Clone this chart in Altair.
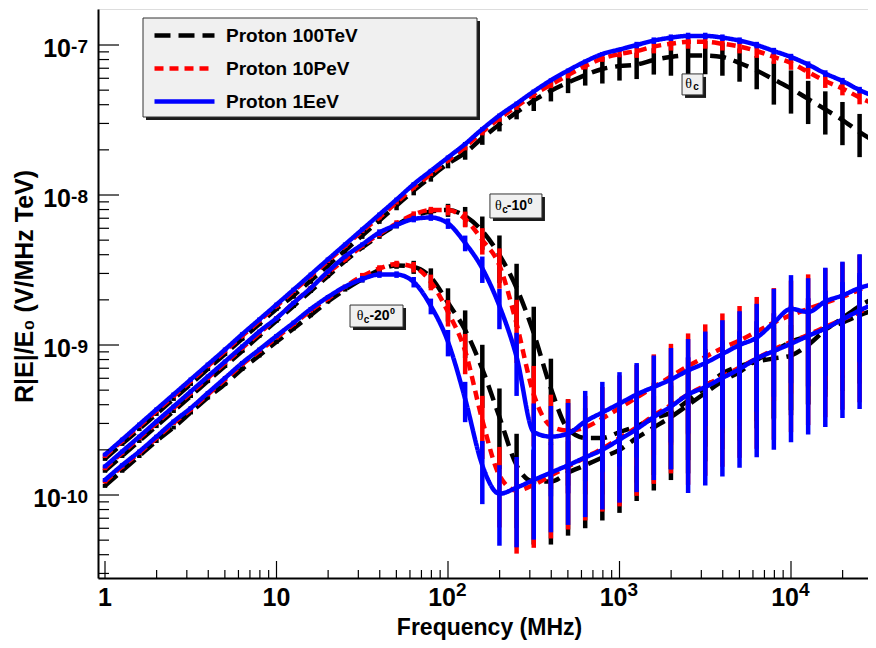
import altair as alt
import pandas as pd

# ---------------- data ----------------
freq_mhz = [1.0, 1.259, 1.585, 1.995, 2.512, 3.162, 3.981, 5.012, 6.310, 7.943,
            10.0, 12.59, 15.85, 19.95, 25.12, 31.62, 39.81, 50.12, 63.10, 79.43,
            100.0, 125.9, 158.5, 199.5, 251.2, 316.2, 398.1, 501.2, 631.0, 794.3,
            1000.0, 1259.0, 1585.0, 1995.0, 2512.0, 3162.0, 3981.0, 5012.0, 6310.0, 7943.0,
            10000.0, 12589.0, 15849.0, 19953.0, 25119.0, 31623.0]

energies = ["Proton 100TeV", "Proton 10PeV", "Proton 1EeV"]
energy_colors = ["#000000", "#ff0000", "#0000ff"]
energy_dashes = [[16, 8], [9, 6], [1, 0]]
angles = ["θc", "θc-10°", "θc-20°"]

# R|E|/E0 (V/MHz TeV)
p100tev_thc = [1.74e-10, 2.19e-10, 2.75e-10, 3.47e-10, 4.37e-10, 5.50e-10, 6.92e-10, 8.71e-10, 1.10e-9, 1.38e-9,
               1.74e-9, 2.14e-9, 2.69e-9, 3.39e-9, 4.27e-9, 5.37e-9, 6.76e-9, 8.51e-9, 1.07e-8, 1.32e-8,
               1.62e-8, 1.91e-8, 2.40e-8, 2.95e-8, 3.55e-8, 4.27e-8, 4.95e-8, 5.62e-8, 6.31e-8, 6.92e-8,
               7.24e-8, 7.41e-8, 7.94e-8, 8.32e-8, 8.51e-8, 8.51e-8, 8.32e-8, 7.59e-8, 6.76e-8, 5.89e-8,
               5.13e-8, 4.37e-8, 3.72e-8, 3.16e-8, 2.63e-8, 2.24e-8]
p10pev_thc = [1.82e-10, 2.29e-10, 2.88e-10, 3.63e-10, 4.57e-10, 5.75e-10, 7.24e-10, 9.12e-10, 1.15e-9, 1.45e-9,
              1.82e-9, 2.29e-9, 2.88e-9, 3.63e-9, 4.57e-9, 5.75e-9, 7.08e-9, 8.91e-9, 1.12e-8, 1.38e-8,
              1.70e-8, 2.09e-8, 2.63e-8, 3.24e-8, 3.89e-8, 4.68e-8, 5.43e-8, 6.31e-8, 7.24e-8, 8.13e-8,
              8.71e-8, 9.12e-8, 9.77e-8, 1.02e-7, 1.05e-7, 1.05e-7, 1.02e-7, 9.77e-8, 9.12e-8, 8.32e-8,
              7.59e-8, 6.61e-8, 5.75e-8, 5.13e-8, 4.47e-8, 3.98e-8]
p1eev_thc = [1.86e-10, 2.34e-10, 2.95e-10, 3.72e-10, 4.68e-10, 5.89e-10, 7.41e-10, 9.33e-10, 1.18e-9, 1.48e-9,
             1.86e-9, 2.34e-9, 2.95e-9, 3.72e-9, 4.68e-9, 5.89e-9, 7.41e-9, 9.33e-9, 1.18e-8, 1.45e-8,
             1.78e-8, 2.19e-8, 2.75e-8, 3.39e-8, 4.07e-8, 4.90e-8, 5.82e-8, 6.76e-8, 7.76e-8, 8.71e-8,
             9.33e-8, 1.00e-7, 1.07e-7, 1.12e-7, 1.15e-7, 1.15e-7, 1.12e-7, 1.07e-7, 1.00e-7, 9.12e-8,
             8.32e-8, 7.41e-8, 6.46e-8, 5.75e-8, 5.01e-8, 4.47e-8]

p100tev_th10 = [1.45e-10, 1.82e-10, 2.29e-10, 2.88e-10, 3.63e-10, 4.57e-10, 5.75e-10, 7.24e-10, 9.12e-10, 1.15e-9,
                1.45e-9, 1.82e-9, 2.29e-9, 2.88e-9, 3.63e-9, 4.47e-9, 5.37e-9, 6.31e-9, 7.24e-9, 7.76e-9,
                7.94e-9, 7.24e-9, 5.75e-9, 3.98e-9, 2.40e-9, 1.20e-9, 5.13e-10, 2.75e-10, 2.40e-10, 2.40e-10,
                2.63e-10, 2.88e-10, 3.24e-10, 3.55e-10, 4.27e-10, 5.25e-10, 6.46e-10, 7.24e-10, 7.76e-10, 8.13e-10,
                8.51e-10, 1.00e-9, 1.26e-9, 1.51e-9, 1.82e-9, 2.09e-9]
p10pev_th10 = [1.51e-10, 1.91e-10, 2.40e-10, 3.02e-10, 3.80e-10, 4.79e-10, 6.03e-10, 7.59e-10, 9.55e-10, 1.20e-9,
               1.51e-9, 1.91e-9, 2.40e-9, 3.02e-9, 3.72e-9, 4.57e-9, 5.50e-9, 6.46e-9, 7.41e-9, 7.94e-9,
               7.94e-9, 6.92e-9, 5.01e-9, 3.39e-9, 1.38e-9, 4.68e-10, 2.88e-10, 2.69e-10, 2.82e-10, 3.24e-10,
               3.80e-10, 4.47e-10, 5.25e-10, 6.17e-10, 7.24e-10, 8.32e-10, 9.55e-10, 1.07e-9, 1.23e-9, 1.41e-9,
               1.58e-9, 1.74e-9, 1.91e-9, 2.09e-9, 2.34e-9, 2.63e-9]
p1eev_th10 = [1.55e-10, 1.95e-10, 2.45e-10, 3.09e-10, 3.89e-10, 4.90e-10, 6.17e-10, 7.76e-10, 9.77e-10, 1.23e-9,
              1.51e-9, 1.91e-9, 2.40e-9, 3.09e-9, 3.89e-9, 4.68e-9, 5.62e-9, 6.31e-9, 6.92e-9, 7.08e-9,
              6.46e-9, 4.79e-9, 3.24e-9, 1.82e-9, 8.32e-10, 2.63e-10, 2.45e-10, 2.57e-10, 3.09e-10, 3.55e-10,
              4.07e-10, 4.68e-10, 5.25e-10, 5.89e-10, 6.76e-10, 7.59e-10, 8.71e-10, 1.00e-9, 1.12e-9, 1.41e-9,
              1.74e-9, 1.66e-9, 1.95e-9, 2.14e-9, 2.40e-9, 2.57e-9]

p100tev_th20 = [1.15e-10, 1.45e-10, 1.82e-10, 2.29e-10, 2.82e-10, 3.55e-10, 4.47e-10, 5.50e-10, 6.92e-10, 8.51e-10,
                1.05e-9, 1.29e-9, 1.58e-9, 1.95e-9, 2.34e-9, 2.75e-9, 3.16e-9, 3.39e-9, 3.31e-9, 2.82e-9,
                1.91e-9, 1.26e-9, 6.92e-10, 3.31e-10, 1.58e-10, 1.23e-10, 1.23e-10, 1.41e-10, 1.58e-10, 1.78e-10,
                2.00e-10, 2.40e-10, 2.82e-10, 3.31e-10, 3.98e-10, 4.79e-10, 5.75e-10, 6.61e-10, 7.94e-10, 9.12e-10,
                1.05e-9, 1.15e-9, 1.29e-9, 1.41e-9, 1.58e-9, 1.74e-9]
p10pev_th20 = [1.23e-10, 1.55e-10, 1.91e-10, 2.40e-10, 3.02e-10, 3.72e-10, 4.68e-10, 5.89e-10, 7.41e-10, 9.12e-10,
               1.12e-9, 1.38e-9, 1.70e-9, 2.04e-9, 2.45e-9, 2.88e-9, 3.24e-9, 3.47e-9, 3.31e-9, 2.63e-9,
               1.66e-9, 9.12e-10, 3.16e-10, 1.35e-10, 1.07e-10, 1.17e-10, 1.35e-10, 1.55e-10, 1.78e-10, 2.04e-10,
               2.40e-10, 2.82e-10, 3.39e-10, 3.98e-10, 4.68e-10, 5.37e-10, 6.17e-10, 7.08e-10, 8.13e-10, 9.33e-10,
               1.05e-9, 1.17e-9, 1.32e-9, 1.48e-9, 1.66e-9, 1.86e-9]
p1eev_th20 = [1.26e-10, 1.58e-10, 1.95e-10, 2.45e-10, 3.09e-10, 3.80e-10, 4.79e-10, 6.03e-10, 7.59e-10, 9.33e-10,
              1.15e-9, 1.41e-9, 1.74e-9, 2.09e-9, 2.45e-9, 2.75e-9, 2.95e-9, 2.95e-9, 2.63e-9, 1.82e-9,
              1.05e-9, 4.37e-10, 1.58e-10, 1.02e-10, 1.12e-10, 1.26e-10, 1.41e-10, 1.58e-10, 1.78e-10, 2.00e-10,
              2.34e-10, 2.75e-10, 3.31e-10, 3.89e-10, 4.68e-10, 5.25e-10, 6.03e-10, 6.92e-10, 8.13e-10, 9.12e-10,
              1.02e-9, 1.15e-9, 1.29e-9, 1.48e-9, 1.70e-9, 1.91e-9]

# relative size of the error bars (fraction of the value)
err_p100tev_thc = [0.03, 0.03, 0.03, 0.03, 0.03, 0.03, 0.03, 0.03, 0.03, 0.03,
                   0.03, 0.05, 0.05, 0.05, 0.05, 0.05, 0.05, 0.07, 0.07, 0.07,
                   0.07, 0.10, 0.10, 0.10, 0.10, 0.15, 0.15, 0.15, 0.15, 0.20,
                   0.20, 0.20, 0.20, 0.25, 0.25, 0.25, 0.25, 0.25, 0.25, 0.32,
                   0.32, 0.32, 0.32, 0.32, 0.32, 0.32]
err_p10pev_thc = [0.03, 0.03, 0.03, 0.03, 0.03, 0.03, 0.03, 0.03, 0.03, 0.03,
                  0.03, 0.03, 0.03, 0.03, 0.03, 0.03, 0.03, 0.03, 0.03, 0.03,
                  0.03, 0.05, 0.05, 0.05, 0.05, 0.05, 0.05, 0.05, 0.05, 0.05,
                  0.05, 0.10, 0.10, 0.10, 0.10, 0.10, 0.10, 0.10, 0.10, 0.10,
                  0.10, 0.10, 0.10, 0.10, 0.10, 0.10]
err_p1eev_thc = [0.03, 0.03, 0.03, 0.03, 0.03, 0.03, 0.03, 0.03, 0.03, 0.03,
                 0.03, 0.03, 0.03, 0.03, 0.03, 0.03, 0.03, 0.03, 0.03, 0.03,
                 0.03, 0.03, 0.03, 0.03, 0.03, 0.03, 0.03, 0.03, 0.03, 0.03,
                 0.03, 0.05, 0.05, 0.05, 0.05, 0.05, 0.05, 0.05, 0.05, 0.05,
                 0.05, 0.05, 0.05, 0.05, 0.05, 0.05]

err_p100tev_th10 = [0.03, 0.03, 0.03, 0.03, 0.03, 0.03, 0.03, 0.03, 0.03, 0.03,
                    0.03, 0.03, 0.03, 0.03, 0.03, 0.03, 0.05, 0.05, 0.05, 0.05,
                    0.10, 0.15, 0.25, 0.35, 0.45, 0.50, 0.58, 0.58, 0.58, 0.58,
                    0.58, 0.58, 0.58, 0.58, 0.60, 0.60, 0.60, 0.60, 0.60, 0.60,
                    0.60, 0.60, 0.60, 0.60, 0.60, 0.60]
err_p10pev_th10 = [0.03, 0.03, 0.03, 0.03, 0.03, 0.03, 0.03, 0.03, 0.03, 0.03,
                   0.03, 0.03, 0.03, 0.03, 0.03, 0.03, 0.05, 0.05, 0.05, 0.05,
                   0.08, 0.12, 0.20, 0.30, 0.45, 0.55, 0.62, 0.62, 0.62, 0.62,
                   0.65, 0.65, 0.65, 0.65, 0.65, 0.65, 0.70, 0.70, 0.70, 0.70,
                   0.70, 0.70, 0.70, 0.70, 0.70, 0.70]
err_p1eev_th10 = [0.03, 0.03, 0.03, 0.03, 0.03, 0.03, 0.03, 0.03, 0.03, 0.03,
                  0.03, 0.03, 0.03, 0.03, 0.03, 0.03, 0.05, 0.05, 0.05, 0.05,
                  0.08, 0.12, 0.20, 0.30, 0.45, 0.55, 0.60, 0.60, 0.60, 0.60,
                  0.62, 0.62, 0.62, 0.62, 0.62, 0.62, 0.68, 0.68, 0.68, 0.68,
                  0.68, 0.68, 0.68, 0.68, 0.68, 0.68]

err_p100tev_th20 = [0.03, 0.03, 0.03, 0.03, 0.03, 0.03, 0.03, 0.03, 0.03, 0.03,
                    0.03, 0.03, 0.03, 0.03, 0.03, 0.05, 0.05, 0.05, 0.10, 0.15,
                    0.25, 0.35, 0.45, 0.55, 0.62, 0.62, 0.62, 0.62, 0.62, 0.62,
                    0.62, 0.62, 0.62, 0.62, 0.65, 0.65, 0.65, 0.65, 0.65, 0.65,
                    0.65, 0.65, 0.65, 0.65, 0.65, 0.65]
err_p10pev_th20 = [0.03, 0.03, 0.03, 0.03, 0.03, 0.03, 0.03, 0.03, 0.03, 0.03,
                   0.03, 0.03, 0.03, 0.03, 0.03, 0.05, 0.05, 0.05, 0.08, 0.12,
                   0.20, 0.30, 0.45, 0.55, 0.62, 0.62, 0.62, 0.62, 0.62, 0.62,
                   0.65, 0.65, 0.65, 0.65, 0.75, 0.75, 0.75, 0.75, 0.75, 0.75,
                   0.75, 0.75, 0.75, 0.75, 0.75, 0.75]
err_p1eev_th20 = [0.03, 0.03, 0.03, 0.03, 0.03, 0.03, 0.03, 0.03, 0.03, 0.03,
                  0.03, 0.03, 0.03, 0.03, 0.03, 0.05, 0.05, 0.05, 0.08, 0.12,
                  0.20, 0.30, 0.45, 0.55, 0.60, 0.60, 0.60, 0.60, 0.60, 0.60,
                  0.62, 0.62, 0.62, 0.62, 0.78, 0.78, 0.78, 0.78, 0.78, 0.78,
                  0.78, 0.78, 0.78, 0.78, 0.78, 0.78]

curves = {
    ("Proton 100TeV", "θc"): (p100tev_thc, err_p100tev_thc),
    ("Proton 100TeV", "θc-10°"): (p100tev_th10, err_p100tev_th10),
    ("Proton 100TeV", "θc-20°"): (p100tev_th20, err_p100tev_th20),
    ("Proton 10PeV", "θc"): (p10pev_thc, err_p10pev_thc),
    ("Proton 10PeV", "θc-10°"): (p10pev_th10, err_p10pev_th10),
    ("Proton 10PeV", "θc-20°"): (p10pev_th20, err_p10pev_th20),
    ("Proton 1EeV", "θc"): (p1eev_thc, err_p1eev_thc),
    ("Proton 1EeV", "θc-10°"): (p1eev_th10, err_p1eev_th10),
    ("Proton 1EeV", "θc-20°"): (p1eev_th20, err_p1eev_th20),
}

# axis ticks and tick labels
x_major_ticks = [1, 10, 100, 1000, 10000]
x_minor_ticks = [2, 3, 4, 5, 6, 7, 8, 9, 20, 30, 40, 50, 60, 70, 80, 90,
                 200, 300, 400, 500, 600, 700, 800, 900,
                 2000, 3000, 4000, 5000, 6000, 7000, 8000, 9000, 20000]
x_plain_labels = ["1", "10"]            # at 1 and 10
x_power_labels = ["2", "3", "4"]        # 10^2, 10^3, 10^4
y_major_ticks = [1e-10, 1e-9, 1e-8, 1e-7]
y_power_labels = ["-10", "-9", "-8", "-7"]
y_minor_ticks = [3e-11, 4e-11, 5e-11, 6e-11, 7e-11, 8e-11, 9e-11,
                 2e-10, 3e-10, 4e-10, 5e-10, 6e-10, 7e-10, 8e-10, 9e-10,
                 2e-9, 3e-9, 4e-9, 5e-9, 6e-9, 7e-9, 8e-9, 9e-9,
                 2e-8, 3e-8, 4e-8, 5e-8, 6e-8, 7e-8, 8e-8, 9e-8]

# annotation boxes: anchor (frequency, field), box size in px
ann_freq = [2666, 249, 38.3]
ann_field = [5.46e-8, 8.45e-9, 1.56e-9]
ann_box = [(21, 21), (52, 24), (53, 22)]
# text pieces: (annotation index, text, dx, dy, size, weight, font)
ann_parts = [
    (0, "θ", -4, 0, 14, "normal", "Liberation Serif"),
    (0, "c", 3.5, 3, 10, "bold", "Liberation Sans"),
    (1, "θ", -17.5, 0, 14, "normal", "Liberation Serif"),
    (1, "c", -11, 4, 10, "bold", "Liberation Sans"),
    (1, "-10", 1, 0, 14, "bold", "Liberation Sans"),
    (1, "0", 14, -5, 9, "bold", "Liberation Sans"),
    (2, "θ", -16.5, 0, 14, "normal", "Liberation Serif"),
    (2, "c", -10, 4, 10, "bold", "Liberation Sans"),
    (2, "-20", 3, 0, 14, "bold", "Liberation Sans"),
    (2, "0", 16, -5, 9, "bold", "Liberation Sans"),
]

# ---------------- chart ----------------
FONT = "Liberation Sans"
W, H = 770, 569

rows = []
for (en, an), (vals, errs) in curves.items():
    for f, v, e in zip(freq_mhz, vals, errs):
        rows.append({"energy": en, "angle": an, "freq": f, "field": v,
                     "lo": v * (1 - e), "hi": v * (1 + e)})
df = pd.DataFrame(rows)

xscale = alt.Scale(type="log", domain=[0.9103, 28118], nice=False)
yscale = alt.Scale(type="log", domain=[2.797e-11, 1.738e-7], nice=False)

x_axis = alt.Axis(
    values=x_major_ticks, labels=False, ticks=False, grid=False,
    domainColor="black", domainWidth=2,
    title="Frequency (MHz)", titleFont=FONT, titleFontSize=23, titleFontWeight="bold",
    titleColor="black", titleX=391, titleY=56, titleBaseline="alphabetic", titleAlign="center",
)
y_axis = alt.Axis(
    values=y_major_ticks, labels=False, ticks=False, grid=False,
    domainColor="black", domainWidth=2,
    title="R|E|/E₀ (V/MHz TeV)", titleFont=FONT, titleFontSize=25, titleFontWeight="bold",
    titleColor="black", titleX=-74, titleY=277, titleAngle=-90, titleAlign="center",
    titleBaseline="middle",
)

X = alt.X("freq:Q", scale=xscale, axis=x_axis)
Y = alt.Y("field:Q", scale=yscale, axis=y_axis)

legend = alt.Legend(
    title=None, orient="none", legendX=74, legendY=14, padding=0,
    symbolType="M-3,0L3,0", symbolSize=400, symbolStrokeWidth=4.5,
    labelFont=FONT, labelFontSize=19, labelFontWeight="bold", labelColor="black",
    labelOffset=29, rowPadding=10, labelLimit=0,
)
cscale = alt.Scale(domain=energies, range=energy_colors)
dscale = alt.Scale(domain=energies, range=energy_dashes)

layers = []

# legend box (decoration) with its shadow
dummy = alt.Data(values=[{"a": 1}])
layers.append(alt.Chart(dummy).mark_rect(fill="#1a1a1a").encode(
    x=alt.value(48), x2=alt.value(382), y=alt.value(12), y2=alt.value(111)))
layers.append(alt.Chart(dummy).mark_rect(fill="#f0f0f0", stroke="#333333", strokeWidth=1).encode(
    x=alt.value(45), x2=alt.value(379), y=alt.value(9), y2=alt.value(108)))

for en, col in zip(energies, energy_colors):
    d = df[df.energy == en]
    layers.append(alt.Chart(d).mark_line(strokeWidth=4.5, clip=True, interpolate="monotone").encode(
        x=X, y=Y,
        color=alt.Color("energy:N", scale=cscale, legend=legend),
        strokeDash=alt.StrokeDash("energy:N", scale=dscale, legend=legend),
        detail="angle:N",
    ))
    layers.append(alt.Chart(d).mark_rule(strokeWidth=4.5, clip=True, color=col).encode(
        x=X, y=alt.Y("lo:Q", scale=yscale, axis=y_axis), y2="hi:Q",
    ))

# axis ticks drawn inward (ROOT style)
tx_maj = pd.DataFrame({"freq": x_major_ticks})
tx_min = pd.DataFrame({"freq": x_minor_ticks})
ty_maj = pd.DataFrame({"field": y_major_ticks})
ty_min = pd.DataFrame({"field": y_minor_ticks})
layers.append(alt.Chart(tx_maj).mark_rule(color="black", strokeWidth=1.2).encode(
    x=X, y=alt.value(H), y2=alt.value(H - 17)))
layers.append(alt.Chart(tx_min).mark_rule(color="black", strokeWidth=1.2).encode(
    x=X, y=alt.value(H), y2=alt.value(H - 8)))
layers.append(alt.Chart(ty_maj).mark_rule(color="black", strokeWidth=1.2).encode(
    y=Y, x=alt.value(0), x2=alt.value(21)))
layers.append(alt.Chart(ty_min).mark_rule(color="black", strokeWidth=1.2).encode(
    y=Y, x=alt.value(0), x2=alt.value(11)))

# tick labels with real superscripts (ROOT style "10^n")
lab_style = dict(font=FONT, fontWeight="bold", color="black")
xl_plain = pd.DataFrame({"freq": x_major_ticks[:2], "t": x_plain_labels})
xl_pow = pd.DataFrame({"freq": x_major_ticks[2:], "t": ["10"] * 3, "e": x_power_labels})
layers.append(alt.Chart(xl_plain).mark_text(fontSize=25, align="center", baseline="alphabetic", **lab_style).encode(
    x=X, y=alt.value(H + 28), text="t:N"))
layers.append(alt.Chart(xl_pow).mark_text(fontSize=25, align="right", dx=8, baseline="alphabetic", **lab_style).encode(
    x=X, y=alt.value(H + 28), text="t:N"))
layers.append(alt.Chart(xl_pow).mark_text(fontSize=19, align="left", dx=8, baseline="alphabetic", **lab_style).encode(
    x=X, y=alt.value(H + 18), text="e:N"))

yl = pd.DataFrame({"field": y_major_ticks, "t": ["10"] * 4, "e": y_power_labels})
layers.append(alt.Chart(yl[yl.e == "-10"]).mark_text(fontSize=25, align="right", dy=12, baseline="alphabetic", **lab_style).encode(
    y=Y, x=alt.value(-37), text="t:N"))
layers.append(alt.Chart(yl[yl.e != "-10"]).mark_text(fontSize=25, align="right", dy=12, baseline="alphabetic", **lab_style).encode(
    y=Y, x=alt.value(-27), text="t:N"))
layers.append(alt.Chart(yl).mark_text(fontSize=19, align="right", dy=8, baseline="alphabetic", **lab_style).encode(
    y=Y, x=alt.value(-10), text="e:N"))

# annotation boxes
for i, (bw, bh) in enumerate(ann_box):
    h = bh / bw
    s = 3.0 / (bw / 2.0)
    box_path = f"M-1,{-h} L1,{-h} L1,{h} L-1,{h} Z"
    shadow_path = f"M{-1 + s},{-h + s} L{1 + s},{-h + s} L{1 + s},{h + s} L{-1 + s},{h + s} Z"
    ad = pd.DataFrame({"freq": [ann_freq[i]], "field": [ann_field[i]]})
    layers.append(alt.Chart(ad).mark_point(shape=shadow_path, size=bw * bw, filled=True,
                                           fill="#1a1a1a", opacity=1, strokeWidth=0).encode(x=X, y=Y))
    layers.append(alt.Chart(ad).mark_point(shape=box_path, size=bw * bw, filled=True,
                                           fill="#f0f0f0", stroke="#333333", strokeWidth=1,
                                           opacity=1).encode(x=X, y=Y))

for (i, txt, dx, dy, fs, fw, fnt) in ann_parts:
    ad = pd.DataFrame({"freq": [ann_freq[i]], "field": [ann_field[i]], "t": [txt]})
    layers.append(alt.Chart(ad).mark_text(dx=dx, dy=dy, fontSize=fs, fontWeight=fw, font=fnt,
                                          color="black", align="center", baseline="middle").encode(
        x=X, y=Y, text="t:N"))

chart = alt.layer(*layers).properties(
    width=W, height=H,
    padding={"left": 90, "top": 1, "right": 0, "bottom": 62},
    autosize=alt.AutoSizeParams(type="none"),
).configure_view(stroke="#333333", strokeWidth=2).configure(font=FONT)

chart.save("out.html", embed_options={"renderer": "svg", "actions": False})
